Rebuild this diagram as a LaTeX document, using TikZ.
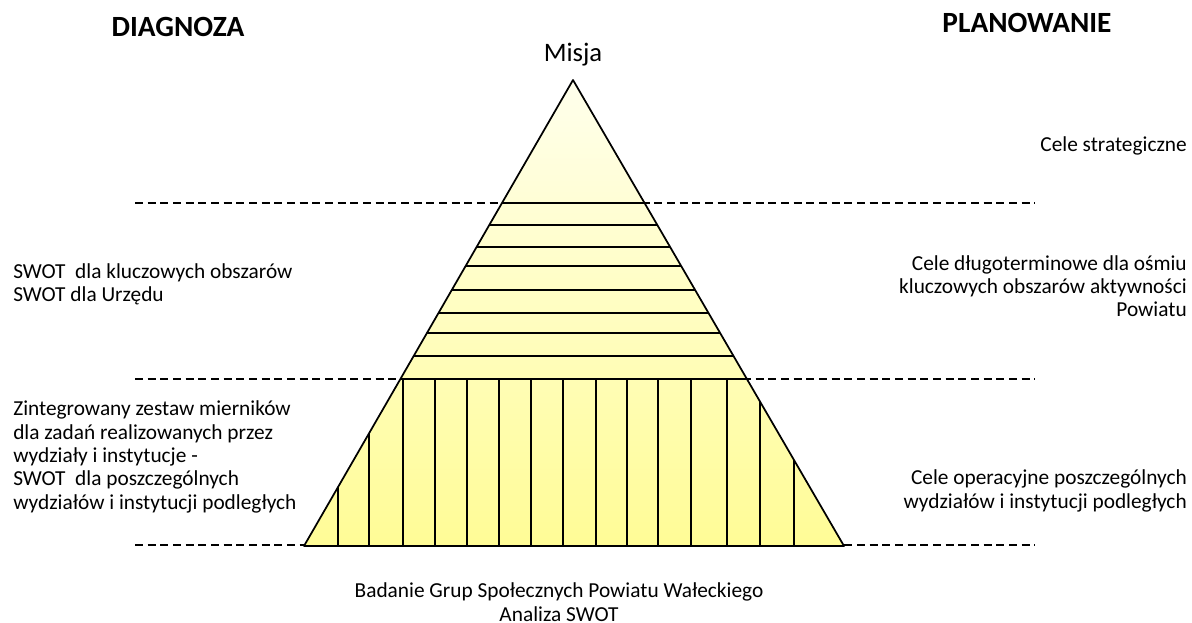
\documentclass[tikz,border=0pt]{standalone}
\usepackage{fontspec}
\setmainfont{Carlito}
\usepackage{tikz}

\tikzset{
  band/.style={line width=1.1pt},
  level/.style={line width=1.1pt, dash pattern=on 6pt off 3.5pt},
  sidetext/.style={font=\fontsize{16}{17.5}\selectfont, inner sep=0pt},
  headtext/.style={font=\fontsize{22}{26}\selectfont\bfseries, inner sep=0pt},
}

\begin{document}
\begin{tikzpicture}[x=0.75pt,y=-0.75pt]
    \useasboundingbox (0,0) rectangle (1192,623);

    % Define pyramid corners
    \coordinate (apex) at (573,80);
    \coordinate (bl) at (304,546);
    \coordinate (br) at (844,546);

    % Define ends of the dashed levels
    \coordinate (la) at (135,203);
    \coordinate (ra) at (1035,203);
    \coordinate (lb) at (135,379);
    \coordinate (rb) at (1035,379);
    \coordinate (lc) at (135,545);
    \coordinate (rc) at (1035,545);

    % Draw dashed levels
    \draw[level] (la) -- (ra);
    \draw[level] (lb) -- (rb);
    \draw[level] (lc) -- (rc);

    % Fill the pyramid
    \fill[top color={rgb,255:red,255;green,255;blue,236}, bottom color={rgb,255:red,255;green,252;blue,150}]
        (apex) -- (bl) -- (br) -- cycle;

    % Draw bands and strips inside the pyramid
    \begin{scope}
        \clip (apex) -- (bl) -- (br) -- cycle;
        \foreach \y in {203,225,247,266,290,313,333,356,379}
            \draw[band] (290,\y) -- (860,\y);
        \foreach \x in {338,369,403,435,467,499,531,563,596,627,658,691,727,760,794}
            \draw[band] (\x,379) -- (\x,546);
    \end{scope}

    % Draw pyramid outline
    \draw[line width=1.3pt, line join=round] (apex) -- (bl) -- (br) -- cycle;

    % Headings
    \node[headtext, anchor=base] (diag) at (178,37) {DIAGNOZA};
    \node[headtext, anchor=base] (plan) at (1027,33) {PLANOWANIE};
    \node[font=\fontsize{20}{24}\selectfont, inner sep=0pt, anchor=base] (misja) at (573,62) {Misja};

    % Left column (anchored at the last line)
    \node[sidetext, align=left, anchor=base west] (swot) at (13,302)
        {SWOT\ \ dla kluczowych obszarów\\SWOT dla Urzędu};
    \node[sidetext, align=left, anchor=base west] (mierniki) at (13,509)
        {Zintegrowany zestaw mierników\\dla zadań realizowanych przez\\wydziały i instytucje -\\SWOT\ \ dla poszczególnych\\wydziałów i instytucji podległych};

    % Right column
    \node[sidetext, align=right, anchor=base east] (strat) at (1187,152) {Cele strategiczne};
    \node[sidetext, align=right, anchor=base east] (dlugo) at (1187,317)
        {Cele długoterminowe dla ośmiu\\kluczowych obszarów aktywności\\Powiatu};
    \node[sidetext, align=right, anchor=base east] (oper) at (1187,508)
        {Cele operacyjne poszczególnych\\wydziałów i instytucji podległych};

    % Bottom
    \node[sidetext, align=center, anchor=base] (badanie) at (559,621)
        {Badanie Grup Społecznych Powiatu Wałeckiego\\Analiza SWOT};
\end{tikzpicture}
\end{document}
